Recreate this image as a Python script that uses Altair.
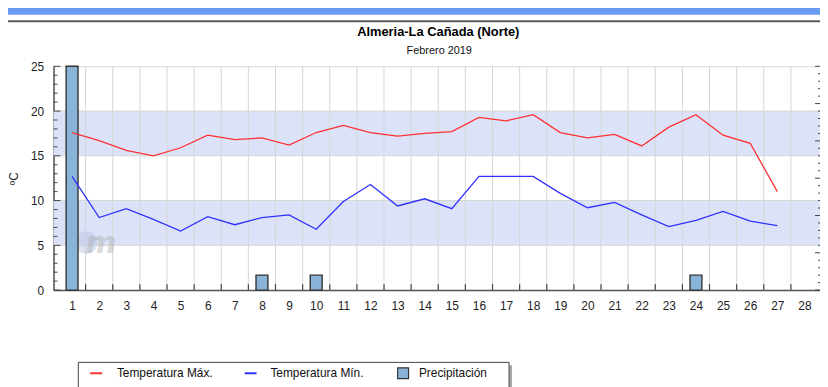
import altair as alt
import pandas as pd

# ---------------- data ----------------
days = list(range(1, 28))
t_max = [17.6, 16.7, 15.6, 15.0, 15.9, 17.3, 16.8, 17.0, 16.2, 17.6,
         18.4, 17.6, 17.2, 17.5, 17.7, 19.3, 18.9, 19.6, 17.6, 17.0,
         17.4, 16.1, 18.2, 19.6, 17.3, 16.4, 11.0]
t_min = [12.7, 8.1, 9.1, 7.9, 6.6, 8.2, 7.3, 8.1, 8.4, 6.8,
         9.9, 11.8, 9.4, 10.2, 9.1, 12.7, 12.7, 12.7, 10.8, 9.2,
         9.8, 8.4, 7.1, 7.8, 8.8, 7.7, 7.2]
precip_days = [1, 8, 10, 24]
precip_mm = [6.0, 0.4, 0.4, 0.4]
day_labels = list(range(1, 29))
temp_ticks = [0, 5, 10, 15, 20, 25]
band_lo = [5, 15]
band_hi = [10, 20]
legend_labels = ["Temperatura Máx.", "Temperatura Mín.", "Precipitación"]
title_text = "Almeria-La Cañada (Norte)"
subtitle_text = "Febrero 2019"
y_title = "ºC"

# ---------------- layout / style ----------------
W, H = 777, 226
FONT = "Liberation Sans"
RED = "#ff3030"
BLUE = "#3030ff"
BAR = "#8ab3d8"

temps = pd.DataFrame({"day": days, "tmax": t_max, "tmin": t_min})
rain = pd.DataFrame({"day": precip_days, "mm": precip_mm})
bands = pd.DataFrame({"lo": band_lo, "hi": band_hi})
bounds = pd.DataFrame({"b": [d + 0.5 for d in day_labels[:-1]]})
hgrid = pd.DataFrame({"v": temp_ticks[1:-1]})
major = pd.DataFrame({"v": temp_ticks})
minor = pd.DataFrame({"v": [v for v in range(26) if v % 5]})
p_major = pd.DataFrame({"v": list(range(0, 7))})
p_minor = pd.DataFrame({"v": [i / 5 for i in range(31) if i % 5]})
one = pd.DataFrame({"a": [0]})

xs = alt.Scale(domain=[0.5, 28.5], nice=False, zero=False)
ys = alt.Scale(domain=[0, 25], nice=False)
ps = alt.Scale(domain=[0, 6], nice=False)

x_axis = alt.Axis(values=day_labels, format="d", title=None, grid=False,
                  ticks=False, tickSize=0, labelPadding=11, labelFontSize=12,
                  labelFont=FONT, labelColor="#222", domainColor="#555",
                  domainWidth=1.5, labelFlush=False, labelOverlap=False)
y_axis = alt.Axis(values=temp_ticks, title=y_title, grid=False, ticks=False,
                  tickSize=0, labelPadding=10, labelFontSize=12, labelFont=FONT,
                  labelColor="#222", domainColor="#555", domainWidth=1.5,
                  titleFontSize=12, titleFont=FONT, titleFontWeight="normal",
                  titleColor="#222", titleX=-40, titleY=H / 2, titleAngle=270,
                  titleBaseline="middle", titleAlign="center", orient="left",
                  labelFlush=False)

X = lambda f: alt.X(f, scale=xs, axis=x_axis)
Yt = lambda f: alt.Y(f, scale=ys, axis=y_axis)

# ---------- back group (temperature scale) ----------
band_layer = alt.Chart(bands).mark_rect(color="#dce3f9").encode(
    y=Yt("lo:Q"), y2="hi:Q", x=alt.value(0), x2=alt.value(W))
hgrid_layer = alt.Chart(hgrid).mark_rule(color="#d6d6d6", strokeWidth=1).encode(
    y=Yt("v:Q"), x=alt.value(0), x2=alt.value(W))
vgrid_layer = alt.Chart(bounds).mark_rule(color="#d6d6d6", strokeWidth=1).encode(
    x=X("b:Q"), y=alt.value(0), y2=alt.value(H))
btick_layer = alt.Chart(bounds).mark_rule(color="#444", strokeWidth=1.2).encode(
    x=X("b:Q"), y=alt.value(H), y2=alt.value(H - 6))
lmajor_layer = alt.Chart(major).mark_rule(color="#444", strokeWidth=1).encode(
    y=Yt("v:Q"), x=alt.value(0), x2=alt.value(7))
lminor_layer = alt.Chart(minor).mark_rule(color="#444", strokeWidth=1).encode(
    y=Yt("v:Q"), x=alt.value(0), x2=alt.value(4))

# watermark logo
logo_circle = alt.Chart(one).mark_circle(size=520, color="#b9c3e8", opacity=0.5).encode(
    x=alt.value(33), y=alt.value(178))
logo_m = alt.Chart(one).mark_text(text="m", font="DejaVu Sans", fontSize=30,
                                  fontStyle="italic", fontWeight="bold",
                                  color="#a8a8a8", opacity=0.4).encode(
    x=alt.value(48), y=alt.value(180))

back = alt.layer(band_layer, hgrid_layer, vgrid_layer, btick_layer,
                 lmajor_layer, lminor_layer, logo_circle, logo_m)

# ---------- precipitation group (own scale) ----------
bars = alt.Chart(rain).mark_bar(size=12, fill=BAR, stroke="#333",
                                strokeWidth=1.4).encode(
    x=X("day:Q"), y=alt.Y("mm:Q", scale=ps, axis=None))
rmajor = alt.Chart(p_major).mark_rule(color="#444").encode(
    y=alt.Y("v:Q", scale=ps, axis=None), x=alt.value(W - 8), x2=alt.value(W))
rminor = alt.Chart(p_minor).mark_rule(color="#444").encode(
    y=alt.Y("v:Q", scale=ps, axis=None), x=alt.value(W - 5), x2=alt.value(W))
precip = alt.layer(bars, rmajor, rminor)

# ---------- front group (temperature lines) ----------
line_max = alt.Chart(temps).mark_line(color=RED, strokeWidth=1.3).encode(
    x=X("day:Q"), y=alt.Y("tmax:Q", scale=ys, axis=None))
line_min = alt.Chart(temps).mark_line(color=BLUE, strokeWidth=1.3).encode(
    x=X("day:Q"), y=alt.Y("tmin:Q", scale=ys, axis=None))

# ---------- page chrome, titles + legend ----------
header = alt.Chart(one).mark_rect(color="#6a9bf4").encode(
    x=alt.value(-46), x2=alt.value(W + 10), y=alt.value(-60), y2=alt.value(-52))
header_line = alt.Chart(one).mark_rule(color="#5a5a5a", strokeWidth=2).encode(
    x=alt.value(-46), x2=alt.value(W + 10), y=alt.value(-45.5))

title_mark = alt.Chart(one).mark_text(text=title_text, font=FONT, fontSize=13,
                                      fontWeight="bold", color="#000",
                                      align="center", baseline="middle").encode(
    x=alt.value(388.5), y=alt.value(-35))
subtitle_mark = alt.Chart(one).mark_text(text=subtitle_text, font=FONT, fontSize=11,
                                         color="#111", align="center",
                                         baseline="middle").encode(
    x=alt.value(389.5), y=alt.value(-15))

LY = 310
leg_shadow = alt.Chart(one).mark_rect(color="#a8a8a8").encode(
    x=alt.value(28), x2=alt.value(463), y=alt.value(302), y2=alt.value(340))
leg_box = alt.Chart(one).mark_rect(fill="white", stroke="#444", strokeWidth=1).encode(
    x=alt.value(25), x2=alt.value(460), y=alt.value(299), y2=alt.value(338))
leg_red = alt.Chart(one).mark_rule(color=RED, strokeWidth=2).encode(
    x=alt.value(37), x2=alt.value(49), y=alt.value(LY))
leg_blue = alt.Chart(one).mark_rule(color=BLUE, strokeWidth=2).encode(
    x=alt.value(193), x2=alt.value(205), y=alt.value(LY))
leg_sq = alt.Chart(one).mark_square(size=121, fill=BAR, stroke="#333",
                                    strokeWidth=1.2, opacity=1).encode(
    x=alt.value(353), y=alt.value(LY))


def leg_text(i, xpos):
    return alt.Chart(one).mark_text(text=legend_labels[i], font=FONT, fontSize=12,
                                    align="left", baseline="middle",
                                    color="#111").encode(
        x=alt.value(xpos), y=alt.value(LY))


legend = alt.layer(leg_shadow, leg_box, leg_red, leg_blue, leg_sq,
                   leg_text(0, 64), leg_text(1, 219), leg_text(2, 369))

chart = alt.layer(header, header_line, title_mark, subtitle_mark, back, precip,
                  line_max, line_min, legend).resolve_scale(
    y="independent"
).properties(
    width=W, height=H,
    autosize=alt.AutoSizeParams(type="none"),
    padding={"left": 46, "top": 57, "right": -3, "bottom": 96},
).configure_view(
    stroke="#aaaaaa", strokeWidth=1, fill="#f6f6f6"
).configure(background="white")

chart.save("out.html", embed_options={"renderer": "svg", "actions": False})
